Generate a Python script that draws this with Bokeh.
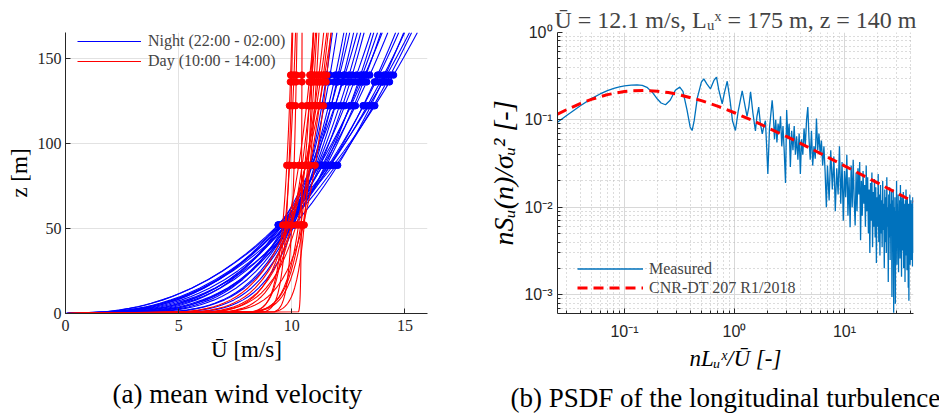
import math
from bokeh.plotting import figure
from bokeh.layouts import row
from bokeh.models import (Range1d, FixedTicker, Legend, LegendItem, Title,
                          CustomJSTickFormatter)
from bokeh.embed import file_html
from bokeh.resources import INLINE

# ---------------- panel (a): mean wind velocity profiles ----------------
profile_z = [0, 1, 2, 3, 4, 5, 6, 8, 10, 12, 15, 20, 25, 30, 35, 40, 45, 50, 55, 60,
             65, 70, 75, 80, 85, 90, 95, 100, 105, 110, 115, 120, 125, 130, 135,
             140, 145, 150, 155, 160, 165]
dot_heights = [52, 87, 122, 136, 140]

night_u52 = [10.1, 9.9, 10.0, 9.7, 9.9, 9.8, 9.6, 10.0, 9.7, 9.9, 9.5,
             9.8, 9.6, 10.1, 9.4, 9.8, 9.5, 9.4, 9.9, 9.6, 10.0, 9.5]
night_u140 = [11.54, 11.93, 12.05, 12.11, 12.29, 12.53, 12.86, 13.04, 13.12, 13.28, 13.45,
              13.79, 13.86, 14.14, 14.2, 14.36, 14.5, 13.23, 12.67, 14.07, 11.69, 12.35]
day_u52 = [10.42, 9.6, 9.7, 10.3, 10.0, 10.4, 10.0, 10.2, 10.5, 9.75, 9.8, 9.9,
           10.5, 10.0, 9.8, 10.55]
day_u140 = [10.45, 9.95, 10.1, 10.85, 10.9, 11.0, 11.2, 11.4, 11.55, 10.0, 10.8, 11.3,
            11.1, 10.2, 11.45, 10.9]

# ---------------- panel (b): PSDF ----------------
psd_freq_low = [0.0246, 0.030, 0.040, 0.050, 0.060, 0.070, 0.080, 0.090, 0.100, 0.115,
                0.130, 0.145, 0.160, 0.180, 0.200, 0.215, 0.236, 0.260, 0.290, 0.318,
                0.340, 0.370, 0.395, 0.412, 0.430, 0.460, 0.500, 0.526, 0.560, 0.605,
                0.650, 0.686, 0.720, 0.773, 0.810, 0.859, 0.910, 0.960, 1.020, 1.080,
                1.175, 1.240, 1.300, 1.350, 1.400, 1.470, 1.550, 1.600, 1.660, 1.720,
                1.790, 1.850, 1.910, 1.960, 2.010, 2.080, 2.200]
psd_low = [0.094, 0.113, 0.146, 0.175, 0.198, 0.216, 0.229, 0.239, 0.245, 0.250,
           0.252, 0.248, 0.236, 0.205, 0.172, 0.156, 0.149, 0.168, 0.218, 0.237,
           0.212, 0.130, 0.083, 0.0756, 0.098, 0.180, 0.270, 0.295, 0.258, 0.227,
           0.283, 0.308, 0.220, 0.153, 0.205, 0.277, 0.170, 0.097, 0.0756, 0.125,
           0.215, 0.150, 0.110, 0.140, 0.210, 0.120, 0.075, 0.110, 0.140, 0.090,
           0.069, 0.085, 0.098, 0.050, 0.024, 0.080, 0.167]
psd_freq_mid = [2.25, 2.31, 2.37, 2.43, 2.49, 2.55, 2.62, 2.69, 2.76, 2.83,
                2.91, 2.98, 3.06, 3.14, 3.22, 3.31, 3.40, 3.49, 3.58, 3.67,
                3.77, 3.87, 3.97, 4.07, 4.18, 4.29, 4.40, 4.52, 4.64, 4.76,
                4.88, 5.01, 5.14, 5.28, 5.42, 5.56, 5.71, 5.86, 6.01, 6.17,
                6.33, 6.50, 6.67, 6.84]
psd_mid = [0.12, 0.06, 0.10, 0.055, 0.09, 0.07, 0.11, 0.05, 0.085, 0.045,
           0.019, 0.13, 0.06, 0.09, 0.029, 0.075, 0.045, 0.085, 0.04, 0.065,
           0.035, 0.07, 0.024, 0.06, 0.04, 0.08, 0.05, 0.10, 0.14, 0.06,
           0.035, 0.075, 0.03, 0.05, 0.036, 0.104, 0.045, 0.07, 0.04, 0.058,
           0.03, 0.05, 0.025, 0.010]
psd_freq_high = [7.0, 7.25, 7.5, 7.75, 8.0, 8.25, 8.5, 8.75,
                 9.0, 9.25, 9.5, 9.75, 10.0, 10.25, 10.5, 10.75,
                 11.0, 11.25, 11.5, 11.75, 12.0, 12.25, 12.5, 12.75,
                 13.0, 13.25, 13.5, 13.75, 14.0, 14.25, 14.5, 14.75,
                 15.0, 15.25, 15.5, 15.75, 16.0, 16.25, 16.5, 16.75,
                 17.0, 17.25, 17.5, 17.75, 18.0, 18.25, 18.5, 18.75,
                 19.0, 19.25, 19.5, 19.75, 20.0, 20.25, 20.5, 20.75,
                 21.0, 21.25, 21.5, 21.75, 22.0, 22.25, 22.5, 22.75,
                 23.0, 23.25, 23.5, 23.75, 24.0, 24.25, 24.5, 24.75,
                 25.0, 25.25, 25.5, 25.75, 26.0, 26.25, 26.5, 26.75,
                 27.0, 27.25, 27.5, 27.75, 28.0, 28.25, 28.5, 28.75,
                 29.0, 29.25, 29.5, 29.75, 30.0, 30.25, 30.5, 30.75,
                 31.0, 31.25, 31.5, 31.75, 32.0, 32.25, 32.5, 32.75,
                 33.0, 33.25, 33.5, 33.75, 34.0, 34.25, 34.5, 34.75,
                 35.0, 35.25, 35.5, 35.75, 36.0, 36.25, 36.5, 36.75,
                 37.0, 37.25, 37.5, 37.75, 38.0, 38.25, 38.5, 38.75,
                 39.0, 39.25, 39.5, 39.75, 40.0, 40.25, 40.5, 40.75,
                 41.0, 41.25, 41.5, 41.75, 42.0]
psd_high = [0.030, 0.012, 0.045, 0.016, 0.038, 0.009, 0.028, 0.014,
            0.050, 0.011, 0.033, 0.007, 0.026, 0.013, 0.040, 0.008,
            0.022, 0.0059, 0.030, 0.010, 0.035, 0.012, 0.0062, 0.025,
            0.009, 0.028, 0.014, 0.033, 0.0042, 0.020, 0.008, 0.026,
            0.011, 0.018, 0.006, 0.030, 0.009, 0.022, 0.005, 0.016,
            0.0030, 0.019, 0.007, 0.025, 0.0035, 0.015, 0.006, 0.021,
            0.0045, 0.017, 0.0023, 0.013, 0.006, 0.024, 0.004, 0.014,
            0.0028, 0.018, 0.005, 0.012, 0.0035, 0.020, 0.0055, 0.011,
            0.0020, 0.016, 0.004, 0.013, 0.0030, 0.022, 0.006, 0.010,
            0.0014, 0.014, 0.0045, 0.017, 0.0025, 0.011, 0.0050, 0.015,
            0.00094, 0.012, 0.0035, 0.016, 0.00062, 0.010, 0.0030, 0.013,
            0.00079, 0.009, 0.0040, 0.020, 0.0022, 0.011, 0.0035, 0.014,
            0.0018, 0.009, 0.0050, 0.012, 0.0026, 0.018, 0.0040, 0.010,
            0.0016, 0.013, 0.0032, 0.008, 0.0045, 0.015, 0.0020, 0.011,
            0.0038, 0.009, 0.0014, 0.012, 0.0028, 0.016, 0.0042, 0.010,
            0.0019, 0.013, 0.0033, 0.008, 0.0012, 0.011, 0.00085, 0.009,
            0.0030, 0.014, 0.0022, 0.010, 0.0036, 0.012, 0.0025, 0.009,
            0.0040, 0.011, 0.0021, 0.013, 0.0030]

cnr_freq = [0.0246, 0.03, 0.04, 0.05, 0.07, 0.1, 0.12, 0.15, 0.2, 0.25, 0.3, 0.5, 0.7,
            1.0, 1.5, 2.0, 3.0, 5.0, 7.0, 10.0, 15.0, 20.0, 30.0, 42.4]
cnr_psd = [0.116, 0.1315, 0.1546, 0.1719, 0.1945, 0.211, 0.2155, 0.2171, 0.2129, 0.2053,
           0.197, 0.1663, 0.1439, 0.1207, 0.0968, 0.0815, 0.0642, 0.0467, 0.0376,
           0.0298, 0.0229, 0.0190, 0.0145, 0.0116]

x_major = [0.1, 1, 10]
y_major = [0.001, 0.01, 0.1, 1]

SERIF = "Liberation Serif"
SANS = "Liberation Sans"
AX = "#262626"


def profiles(u52s, u140s):
    xs, du, dz = [], [], []
    for u52, u140 in zip(u52s, u140s):
        a = math.log(u140 / u52) / math.log(140 / 52)
        xs.append([u140 * (z / 140) ** a for z in profile_z])
        for h in dot_heights:
            du.append(u140 * (h / 140) ** a)
            dz.append(h)
    return xs, du, dz


def caption(text, offset, standoff):
    return Title(text=text, align="left", offset=offset, standoff=standoff,
                 text_font=SERIF, text_font_size="27px", text_font_style="normal",
                 text_color="black")


# ================= left figure =================
p1 = figure(width=470, height=420, x_range=Range1d(0, 16), y_range=Range1d(0, 165),
            output_backend="svg", toolbar_location=None,
            min_border_left=65, min_border_right=43, min_border_top=26,
            min_border_bottom=102)
p1.outline_line_color = None
p1.background_fill_color = "white"
p1.border_fill_color = "white"
p1.xaxis.ticker = FixedTicker(ticks=[0, 5, 10, 15])
p1.yaxis.ticker = FixedTicker(ticks=[0, 50, 100, 150])
p1.grid.grid_line_color = "#e2e2e2"
for ax in (p1.xaxis, p1.yaxis):
    ax.axis_line_color = AX
    ax.major_tick_line_color = AX
    ax.major_tick_in = 5
    ax.major_tick_out = 0
    ax.minor_tick_in = 0
    ax.minor_tick_out = 0
    ax.major_label_text_font = SERIF
    ax.major_label_text_font_size = "16px"
    ax.major_label_text_color = AX
    ax.axis_label_text_font = SERIF
    ax.axis_label_text_font_size = "23px"
    ax.axis_label_text_font_style = "normal"
    ax.axis_label_text_color = "black"
p1.xaxis.axis_label = "Ū [m/s]"
p1.yaxis.axis_label = "z [m]"
p1.xaxis.major_label_standoff = 6
p1.xaxis.axis_label_standoff = 3
p1.yaxis.major_label_standoff = 4
p1.yaxis.axis_label_standoff = 3

nxs, ndu, ndz = profiles(night_u52, night_u140)
dxs, ddu, ddz = profiles(day_u52, day_u140)
night_r = [p1.line(xs, profile_z, line_color="#0000ff", line_width=1.1) for xs in nxs]
day_r = [p1.line(xs, profile_z, line_color="#ff0000", line_width=1.1) for xs in dxs]
p1.scatter(ndu, ndz, size=6.5, color="#0000ff")
p1.scatter(ddu, ddz, size=6.5, color="#ff0000")

leg1 = Legend(items=[LegendItem(label="Night (22:00 - 02:00)", renderers=[night_r[0]]),
                     LegendItem(label="Day (10:00 - 14:00)", renderers=[day_r[0]])],
              location=(12, 242), margin=0, padding=0, spacing=0,
              label_height=20, glyph_height=20, glyph_width=64, label_standoff=7,
              label_text_font=SERIF, label_text_font_size="16px",
              border_line_color=None, background_fill_alpha=0)
p1.add_layout(leg1)
p1.add_layout(caption("(a)  mean wind velocity", 47, 24), "below")

# ================= right figure =================
p2 = figure(width=469, height=420, x_axis_type="log", y_axis_type="log",
            x_range=Range1d(0.0246, 42.4), y_range=Range1d(6.09e-4, 1.0),
            output_backend="svg", toolbar_location=None,
            min_border_left=87, min_border_right=26, min_border_top=32,
            min_border_bottom=107)
p2.outline_line_color = None
p2.background_fill_color = "white"
p2.border_fill_color = "white"
p2.title.text = "Ū = 12.1 m/s, Lᵤˣ = 175 m, z = 140 m"
p2.title.align = "center"
p2.title.text_font = SERIF
p2.title.text_font_size = "24px"
p2.title.text_font_style = "normal"
p2.title.standoff = 0

x_minor = [m * 10 ** e for e in (-2, -1, 0, 1) for m in range(2, 10)]
y_minor = [m * 10 ** e for e in (-4, -3, -2, -1) for m in range(2, 10)]
p2.xaxis.ticker = FixedTicker(ticks=x_major, minor_ticks=x_minor)
p2.yaxis.ticker = FixedTicker(ticks=y_major, minor_ticks=y_minor)

fmt = CustomJSTickFormatter(code="""
const sup = {"-": "\u207b", "0": "\u2070", "1": "\u00b9", "2": "\u00b2", "3": "\u00b3", "4": "\u2074"};
const e = Math.round(Math.log10(tick));
return "10" + String(e).split("").map(c => sup[c]).join("");
""")
for ax in (p2.xaxis, p2.yaxis):
    ax.formatter = fmt
    ax.axis_line_color = AX
    ax.major_tick_line_color = AX
    ax.minor_tick_line_color = AX
    ax.major_tick_in = 5
    ax.major_tick_out = 0
    ax.minor_tick_in = 3
    ax.minor_tick_out = 0
    ax.major_label_text_font = SANS
    ax.major_label_text_font_size = "16px"
    ax.major_label_text_color = AX
    ax.axis_label_text_font = SERIF
    ax.axis_label_text_font_style = "italic"
    ax.axis_label_text_color = "black"
p2.xaxis.axis_label = "nLᵤˣ/Ū [-]"
p2.yaxis.axis_label = "nSᵤ(n)/σᵤ² [-]"
p2.xaxis.axis_label_text_font_size = "23px"
p2.yaxis.axis_label_text_font_size = "28px"
p2.xaxis.major_label_standoff = 9
p2.xaxis.axis_label_standoff = 3
p2.yaxis.major_label_standoff = 5
p2.yaxis.axis_label_standoff = 2

p2.grid.grid_line_color = "#d8d8d8"
p2.grid.minor_grid_line_color = "#b8b8b8"
p2.grid.minor_grid_line_dash = "1 3"

r_meas = p2.line(psd_freq_low + psd_freq_mid + psd_freq_high,
                 psd_low + psd_mid + psd_high,
                 line_color="#0072BD", line_width=1.3)
r_cnr = p2.line(cnr_freq, cnr_psd, line_color="#ff0000", line_width=3,
                line_dash="10 6")

leg2 = Legend(items=[LegendItem(label="Measured", renderers=[r_meas]),
                     LegendItem(label="CNR-DT 207 R1/2018", renderers=[r_cnr])],
              location=(20, 16), margin=0, padding=0, spacing=0,
              label_height=19, glyph_height=19, glyph_width=66, label_standoff=6,
              label_text_font=SERIF, label_text_font_size="16px",
              border_line_color=None, background_fill_alpha=0)
p2.add_layout(leg2)
p2.add_layout(caption("(b)  PSDF of the longitudinal turbulence", -47, 14), "below")

layout = row(p1, p2)
open("out.html", "w").write(file_html(layout, INLINE))
